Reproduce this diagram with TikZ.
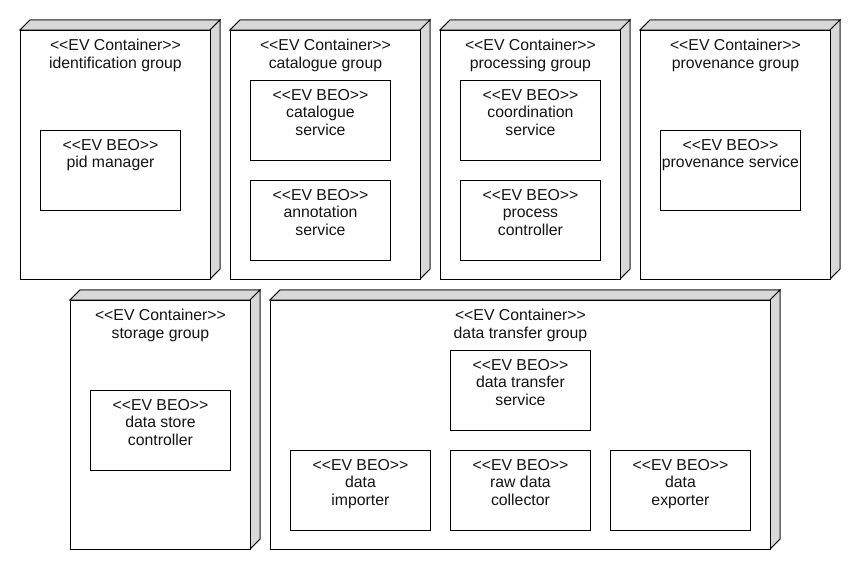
\documentclass[tikz,border=0pt]{standalone}
\usepackage{fontspec}
\setmainfont{Liberation Sans}[Ligatures=TeXOff]
\definecolor{sidegray}{RGB}{216,216,216}
\definecolor{txtgray}{RGB}{20,20,20}
\tikzset{
  boxline/.style={draw=black, line width=0.9pt},
  front/.style={boxline, fill=white, rectangle, inner sep=0pt, anchor=north west},
  side/.style={boxline, fill=sidegray, line join=miter},
  lbl/.style={anchor=north, inner sep=0pt, align=center, text=txtgray,
    font=\fontsize{15.8}{17.5}\selectfont},
}
\newcommand\cnt[6]{% name, x1, y1, x2, y2, text
  \fill[side] (#2,#3) -- (#2+10,#3-10) -- (#4+10,#3-10) -- (#4,#3) -- cycle;
  \fill[side] (#4,#3) -- (#4+10,#3-10) -- (#4+10,#5-10) -- (#4,#5) -- cycle;
  \draw[side] (#2,#3) -- (#2+10,#3-10) -- (#4+10,#3-10) -- (#4,#3) -- cycle;
  \draw[side] (#4,#3) -- (#4+10,#3-10) -- (#4+10,#5-10) -- (#4,#5) -- cycle;
  \node[front, minimum width=#4-#2, minimum height=#5-#3] (#1) at (#2,#3) {};
  \node[lbl] (#1-t) at ([yshift=-9.2pt]#1.north) {#6};
}
\newcommand\beo[6]{% name, x1, y1, x2, y2, text
  \node[front, minimum width=#4-#2, minimum height=#5-#3] (#1) at (#2,#3) {};
  \node[lbl] (#1-t) at ([yshift=-9.2pt]#1.north) {#6};
}
\begin{document}
\begin{tikzpicture}[x=1pt, y=-1pt]
\useasboundingbox (0,0) rectangle (860,570);
% top row containers
\cnt{idg}{20}{30}{210}{279}{<<EV Container>>\\identification group}
\cnt{catg}{230}{30}{420}{279}{<<EV Container>>\\catalogue group}
\cnt{procg}{440}{30}{620}{279}{<<EV Container>>\\processing group}
\cnt{provg}{640}{30}{830}{279}{<<EV Container>>\\provenance group}
% bottom row containers
\cnt{stg}{70}{300}{250}{549}{<<EV Container>>\\storage group}
\cnt{dtg}{270}{300}{770}{549}{<<EV Container>>\\data transfer group}
% BEOs
\beo{pid}{40}{130}{180}{210}{<<EV BEO>>\\pid manager}
\beo{cats}{250}{80}{390}{160}{<<EV BEO>>\\catalogue\\service}
\beo{anns}{250}{180}{390}{260}{<<EV BEO>>\\annotation\\service}
\beo{coord}{460}{80}{600}{160}{<<EV BEO>>\\coordination\\service}
\beo{pctl}{460}{180}{600}{260}{<<EV BEO>>\\process\\controller}
\beo{provs}{660}{130}{800}{210}{<<EV BEO>>\\provenance service}
\beo{dsc}{90}{390}{230}{470}{<<EV BEO>>\\data store\\controller}
\beo{dts}{450}{350}{590}{430}{<<EV BEO>>\\data transfer\\service}
\beo{dimp}{290}{450}{430}{530}{<<EV BEO>>\\data\\importer}
\beo{rdc}{450}{450}{590}{530}{<<EV BEO>>\\raw data\\collector}
\beo{dexp}{610}{450}{750}{530}{<<EV BEO>>\\data\\exporter}
\end{tikzpicture}
\end{document}
